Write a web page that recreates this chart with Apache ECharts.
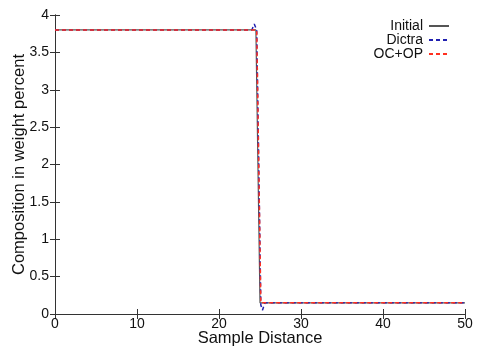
<!DOCTYPE html>
<html><head><meta charset="utf-8">
<script src="https://cdn.jsdelivr.net/npm/echarts@6/dist/echarts.min.js"></script>
<style>html,body{margin:0;padding:0;background:#fff}#c{width:477px;height:351px}</style>
</head><body><div id="c"></div>
<script>
var xTicks = [0, 10, 20, 30, 40, 50];
var yTicks = [0, 0.5, 1, 1.5, 2, 2.5, 3, 3.5, 4];
var initialX = [0, 24.5, 25.0, 50];
var initialY = [3.8, 3.8, 0.15, 0.15];
var dictraX = [0, 24.0, 24.3, 24.6, 25.1, 25.3, 25.6, 50];
var dictraY = [3.8, 3.8, 3.88, 3.8, 0.12, 0.05, 0.15, 0.15];
var ocopX = [0, 24.6, 25.1, 50];
var ocopY = [3.8, 3.8, 0.15, 0.15];

function pts(xs, ys) { return xs.map(function (x, i) { return [x, ys[i]]; }); }

var font = 'Liberation Sans, Arial, sans-serif';
var chart = echarts.init(document.getElementById('c'));
var axisLine = { show: true, lineStyle: { color: '#333', width: 1 } };
var tick = { show: true, inside: true, length: 5, lineStyle: { color: '#333' } };
chart.setOption({
  animation: false,
  grid: { left: 55, right: 12, top: 15, bottom: 37, containLabel: false, outerBoundsMode: 'none' },
  legend: {
    orient: 'vertical', right: 22, top: 14, align: 'right',
    itemWidth: 20, itemHeight: 10, itemGap: 0,
    itemStyle: { opacity: 0 },
    textStyle: { fontFamily: font, fontSize: 14, color: '#111', padding: [0, 1, 0, 0] },
    data: ['Initial', 'Dictra', 'OC+OP']
  },
  xAxis: [{
    type: 'value', min: 0, max: 50, interval: 10,
    name: 'Sample Distance', nameLocation: 'middle', nameGap: 16, nameMoveOverlap: false,
    nameTextStyle: { fontFamily: font, fontSize: 16.5, color: '#111' },
    axisLine: axisLine, axisTick: tick, splitLine: { show: false },
    axisLabel: { fontFamily: font, fontSize: 14, color: '#111', margin: 3,
      formatter: function (v) { return xTicks.indexOf(v) >= 0 ? String(v) : ''; } }
  }, {
    type: 'value', min: 0, max: 50, interval: 10, position: 'top',
    axisLine: axisLine, axisTick: tick, axisLabel: { show: false }, splitLine: { show: false }
  }],
  yAxis: [{
    type: 'value', min: 0, max: 4, interval: 0.5,
    name: 'Composition in weight percent', nameLocation: 'middle', nameGap: 27, nameMoveOverlap: false,
    nameTextStyle: { fontFamily: font, fontSize: 16.5, color: '#111' },
    axisLine: axisLine, axisTick: tick, splitLine: { show: false },
    axisLabel: { fontFamily: font, fontSize: 14, color: '#111', margin: 6,
      formatter: function (v) { return yTicks.indexOf(v) >= 0 ? String(v) : ''; } }
  }, {
    type: 'value', min: 0, max: 4, interval: 0.5, position: 'right',
    axisLine: axisLine, axisTick: tick, axisLabel: { show: false }, splitLine: { show: false }
  }],
  series: [{
    name: 'Initial', type: 'line', showSymbol: false, symbol: 'none',
    data: pts(initialX, initialY),
    lineStyle: { color: '#555', width: 1.2, type: 'solid' }, itemStyle: { color: '#555' }
  }, {
    name: 'Dictra', type: 'line', showSymbol: false, symbol: 'none',
    data: pts(dictraX, dictraY),
    lineStyle: { color: '#2020b0', width: 1.5, type: [4, 3] }, itemStyle: { color: '#2020b0' }
  }, {
    name: 'OC+OP', type: 'line', showSymbol: false, symbol: 'none',
    data: pts(ocopX, ocopY),
    lineStyle: { color: '#ff3020', width: 1.5, type: [4, 3] }, itemStyle: { color: '#ff3020' }
  }]
});
</script></body></html>
